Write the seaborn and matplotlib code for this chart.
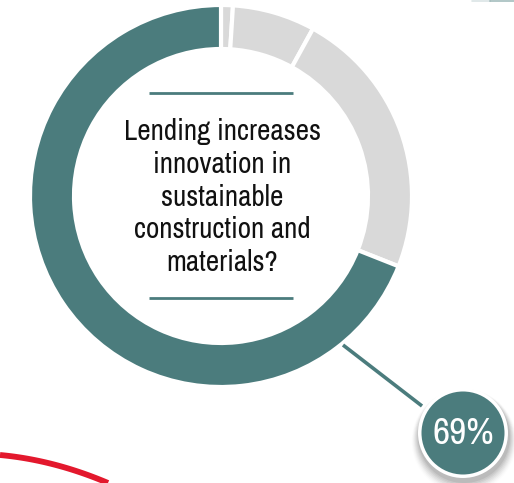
import numpy as np
import matplotlib
matplotlib.use("Agg")
import matplotlib.pyplot as plt
import seaborn as sns
from matplotlib import font_manager as fm
from matplotlib.patches import Circle

sns.set_theme(style="white")


def narrow_face():
    """Find a condensed/narrow sans face among the installed fonts."""
    found = []
    for f in fm.fontManager.ttflist:
        nm = f.name
        st = str(f.stretch)
        narrow = ("Condensed" in nm or "Narrow" in nm or
                  st in ("condensed", "semi-condensed", "extra-condensed") or
                  (st.isdigit() and int(st) < 500))
        if narrow and f.style == "normal":
            w = f.weight if isinstance(f.weight, int) else 400
            found.append((abs(w - 400), nm, st))
    if found:
        found.sort()
        _, nm, st = found[0]
        return nm, st
    return "Roboto", "normal"


FACE, STRETCH = narrow_face()
plt.rcParams["font.family"] = [FACE, "Roboto", "DejaVu Sans"]

# Survey answer shares (percent), drawn clockwise from 12 o'clock
answers = ["Don't know", "Disagree", "Neutral", "Agree"]
shares = [1, 7, 23, 69]
question = "Lending increases\ninnovation in\nsustainable\nconstruction and\nmaterials?"
highlight_label = "69%"

TEAL = "#4b7c7d"
GREY = "#d9d9d9"
colors = [GREY, GREY, GREY, TEAL]

W, H = 514, 483
fig = plt.figure(figsize=(W / 100, H / 100), dpi=100)
ax = fig.add_axes([0, 0, 1, 1])


def py(y):
    """Convert a top-down pixel row into data y."""
    return H - y


cx, cy = 221, py(196)
R, ring = 191, 44

ax.pie(shares, colors=colors, startangle=90, counterclock=False,
       center=(cx, cy), radius=R, frame=True,
       wedgeprops=dict(width=ring, edgecolor="white", linewidth=3))
ax.set_xlim(0, W)
ax.set_ylim(0, H)
ax.set_aspect("equal")
ax.axis("off")

# Question in the hole, framed by two rules
ax.text(cx + 1, py(197), question, ha="center", va="center",
        fontsize=21, fontstretch=STRETCH, fontweight="medium",
        color="#111111", linespacing=1.27)
for yy in (93, 298):
    ax.plot([149, 293], [py(yy), py(yy)], color=TEAL, lw=2, solid_capstyle="butt")

# Leader line to the highlighted share
ax.plot([343, 422], [py(345), py(406)], color=TEAL, lw=2.6, solid_capstyle="butt")

# Badge with soft shadow
bx, by, br = 463, py(433), 45
for i, a in enumerate(np.linspace(0.10, 0.015, 8)):
    ax.add_patch(Circle((bx + 1, by - 4 - i * 0.6), br + 1 + i * 0.9,
                        facecolor="#555555", edgecolor="none", alpha=a, zorder=3))
ax.add_patch(Circle((bx, by), br, facecolor="white", edgecolor="none", zorder=4))
ax.add_patch(Circle((bx, by), br - 3.5, facecolor=TEAL, edgecolor="none", zorder=5))
ax.text(bx, by - 1, highlight_label, ha="center", va="center",
        fontsize=27, fontstretch=STRETCH, color="white", zorder=6)

# Decorative red curve in the lower-left corner
t = np.linspace(0, 1, 50)
xs = 0 + 108 * t
ys = 455 + 10 * t + 18 * t ** 2
ax.plot(xs, py(ys), color="#e3182d", lw=4.2, solid_capstyle="butt")

# Faint teal stroke along the top-right edge
ax.plot([472, 490], [py(0.6), py(0.6)], color=TEAL, lw=1.2, alpha=0.2)
ax.plot([490, 514], [py(0.6), py(0.6)], color=TEAL, lw=1.2, alpha=0.5)

fig.savefig("out.png", dpi=100)
